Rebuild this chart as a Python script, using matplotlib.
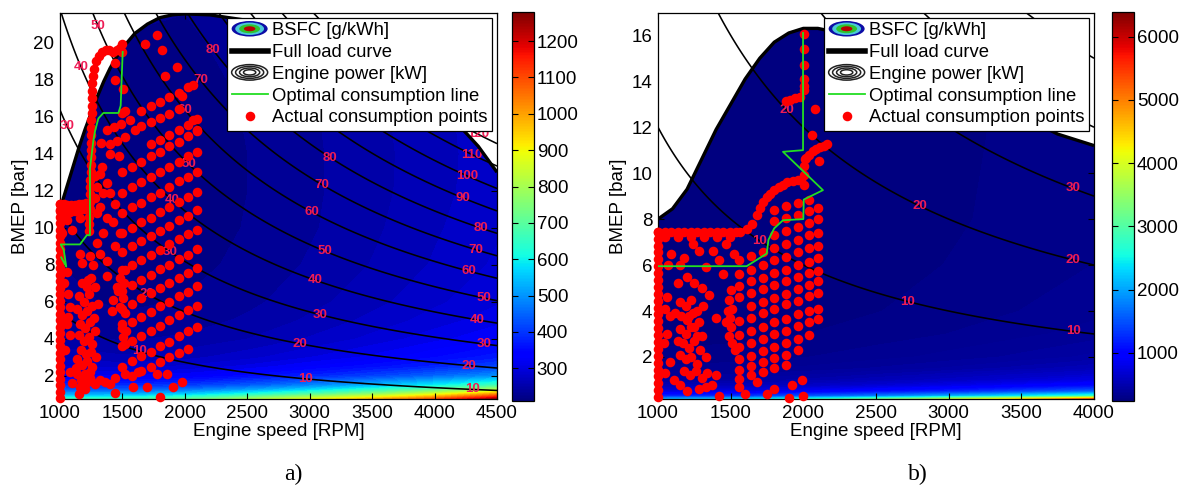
import numpy as np
import matplotlib
matplotlib.use('Agg')
import matplotlib.pyplot as plt
from matplotlib.legend_handler import HandlerBase
from matplotlib.patches import Ellipse, Patch
from matplotlib.lines import Line2D
from matplotlib.colors import Normalize
from matplotlib.cm import ScalarMappable

plt.rcParams['font.family'] = ['Liberation Sans', 'DejaVu Sans']
plt.rcParams['font.size'] = 13.5

# ------------------------------------------------------------------
# panel a) - 2.2 L engine
# ------------------------------------------------------------------
bsfc_a_rpm = [1000, 1500, 2000, 2500, 3000, 3500, 4000, 4500]
bsfc_a_bmep = [0.75, 1.0, 1.25, 1.5, 2.0, 2.5, 3, 4, 5, 6, 8, 10, 12, 14, 16, 18, 20, 22]
bsfc_a = [
    [650, 660, 700, 790, 880, 970, 1090, 1250],
    [520, 525, 560, 625, 700, 780, 880, 1030],
    [440, 440, 465, 510, 570, 635, 710, 810],
    [390, 385, 400, 435, 480, 530, 590, 665],
    [320, 315, 325, 350, 380, 410, 450, 495],
    [285, 280, 288, 305, 330, 355, 380, 415],
    [265, 258, 265, 280, 300, 320, 345, 370],
    [245, 238, 243, 255, 272, 290, 310, 330],
    [235, 228, 232, 243, 258, 275, 292, 310],
    [230, 222, 226, 236, 250, 265, 282, 298],
    [225, 217, 220, 229, 242, 256, 272, 288],
    [222, 215, 217, 226, 238, 252, 268, 283],
    [222, 214, 216, 225, 237, 250, 265, 280],
    [224, 215, 216, 225, 237, 250, 264, 280],
    [227, 217, 217, 226, 238, 251, 265, 281],
    [230, 220, 219, 228, 240, 253, 267, 283],
    [234, 224, 222, 231, 243, 256, 270, 286],
    [238, 228, 226, 234, 246, 259, 273, 289],
]
disp_a = 2.2          # litres
power_a = [10, 20, 30, 40, 50, 60, 70, 80, 90, 100, 110, 120]
label_a_level = [30, 40, 50, 10, 20, 30, 40, 50, 60, 70, 80,
                 10, 20, 30, 40, 50, 60, 70, 80,
                 10, 20, 30, 40, 50, 60, 70, 80, 90, 100, 110, 120]
label_a_rpm = [1056, 1168, 1306, 1640, 1695, 1880, 1900, 2030, 2003, 2124, 2228,
               2964, 2924, 3084, 3044, 3124, 3020, 3100, 3164,
               4300, 4275, 4395, 4340, 4395, 4275, 4330, 4370, 4230, 4260, 4300, 4350]

fl_a_rpm = [1000, 1050, 1100, 1150, 1200, 1250, 1300, 1350, 1400, 1450, 1500, 1600,
            1700, 1800, 1900, 2000, 2200, 2500, 3000, 3500, 4000, 4200, 4350, 4500]
fl_a_bmep = [11.0, 12.1, 13.2, 14.3, 15.3, 16.2, 17.1, 17.9, 18.6, 19.2, 19.7, 20.5,
             21.0, 21.35, 21.5, 21.55, 21.5, 21.2, 20.3, 18.8, 16.8, 15.5, 14.4, 13.0]

opt_a = [(1010, 8.4), (1050, 7.9), (1030, 8.8), (1005, 9.1), (1160, 9.1), (1215, 9.6),
         (1240, 9.6), (1240, 13.2), (1267, 14.7), (1280, 15.2), (1307, 15.9), (1347, 16.2),
         (1468, 16.2), (1486, 16.6), (1502, 19.5)]

idle_a_bmep = [0.8, 1.15, 1.5, 1.85, 2.2, 2.55, 2.9, 3.25, 3.6, 3.95, 4.3, 4.65, 5.0,
               5.35, 5.7, 6.05, 6.4, 6.75, 7.1, 7.45, 7.8, 8.15, 8.5, 8.85, 9.2, 9.55,
               9.9, 10.25, 10.6, 10.95, 11.3]
rows_a_rpm = [1500, 1575, 1650, 1725, 1800, 1875, 1950, 2025, 2100]
rows_a_bmep = [
    [None, 2.0, 2.25, 2.5, 2.75, 3.0, 3.25, 3.45, None],
    [2.5, 2.8, 3.05, 3.3, 3.6, 3.85, 4.15, 4.4, 4.65],
    [3.6, 3.9, 4.15, 4.45, 4.7, 5.0, 5.3, 5.55, 5.8],
    [4.6, 4.9, 5.2, 5.45, 5.75, 6.0, 6.3, 6.55, 6.85],
    [5.6, 5.9, 6.2, 6.45, 6.75, 7.0, 7.3, 7.55, 7.85],
    [6.6, 6.9, 7.2, 7.45, 7.75, 8.0, 8.3, 8.55, 8.85],
    [7.7, 8.0, 8.25, 8.55, 8.8, 9.1, 9.4, 9.65, 9.9],
    [8.7, 9.0, 9.3, 9.55, 9.85, 10.1, 10.4, 10.65, 10.95],
    [9.7, 10.0, 10.3, 10.55, 10.85, 11.1, 11.4, 11.65, 11.95],
    [10.8, 11.1, 11.35, 11.65, 11.9, 12.2, 12.5, 12.75, 13.0],
    [11.9, 12.2, 12.45, 12.75, 13.0, 13.3, 13.55, 13.85, 14.1],
    [13.0, 13.3, 13.55, 13.85, 14.1, 14.4, 14.65, 14.95, 15.2],
    [None, None, None, 14.5, 14.75, 15.0, 15.3, 15.55, 15.85],
    [None, None, 15.5, 15.7, 15.95, 16.15, 16.4, None, None],
    [None, None, 16.3, 16.55, 16.8, 17.05, 17.3, 17.6, None],
]
pts_a = [
    # launch band and climb to full load
    (1000, 11.3), (1030, 11.3), (1060, 11.25), (1090, 11.25), (1120, 11.25), (1150, 11.3),
    (1180, 11.3), (1210, 11.35), (1000, 10.9), (1040, 10.9), (1080, 10.85), (1120, 10.9),
    (1160, 10.95), (1200, 11.0),
    (1232, 9.8), (1234, 10.2), (1236, 10.6), (1238, 11.0), (1240, 11.4), (1240, 11.8),
    (1242, 12.2), (1244, 12.6), (1245, 13.0), (1246, 13.4), (1247, 13.8), (1248, 14.2),
    (1249, 14.6), (1250, 15.0), (1251, 15.4), (1252, 15.8), (1253, 16.2), (1254, 16.6),
    (1255, 17.0), (1256, 17.4), (1258, 17.8), (1265, 18.2), (1275, 18.6), (1290, 19.0),
    (1310, 19.3), (1335, 19.5), (1365, 19.6), (1395, 19.6), (1425, 19.5), (1455, 19.6),
    (1480, 19.7), (1495, 19.9), (1500, 19.5),
    # scattered points
    (1027, 10.8), (1053, 10.4), (1013, 9.7), (1094, 9.9), (1160, 10.5), (1300, 10.8),
    (1320, 11.1), (1280, 11.6), (1294, 12.2), (1280, 12.8), (1320, 12.9), (1374, 12.4),
    (1347, 11.9), (1400, 11.9), (1441, 11.3), (1427, 10.3), (1347, 9.7), (1481, 9.7),
    (1441, 9.0), (1374, 10.5), (1300, 9.2),
    (1067, 6.4), (1080, 5.7), (1067, 5.2), (1053, 4.8), (1080, 4.2), (1040, 3.4),
    (1080, 2.2), (1133, 2.1), (1093, 1.6), (1160, 1.4), (1160, 8.6), (1173, 8.1),
    (1240, 8.5), (1267, 8.0), (1227, 7.2), (1280, 6.8), (1307, 5.9), (1374, 7.4),
    (1320, 8.6), (1380, 8.2), (1030, 7.0), (1060, 7.6),
    (1775, 20.4), (1681, 19.9), (1815, 19.6), (1935, 18.7), (1842, 18.2), (1441, 18.9),
    (1441, 18.0), (1508, 17.5), (2063, 17.7), (1975, 17.1), (2096, 15.3), (2069, 15.8),
    (1494, 16.2), (1521, 16.3), (1560, 15.8), (1600, 15.3), (1400, 14.0), (1470, 13.9),
    (1330, 14.6), (1340, 13.3), (1380, 15.3), (1430, 15.45), (1490, 15.6), (1400, 14.5),
    (1460, 14.7), (1520, 14.9),
    (1481, 7.3), (1467, 6.6), (1508, 6.2), (1481, 5.7), (1521, 5.4), (1494, 4.8),
    (1529, 4.4), (1508, 4.1), (1521, 3.7), (1454, 6.8), (1427, 6.1), (1414, 5.5),
    (1513, 7.0), (1521, 7.7),
    (1240, 1.9), (1280, 1.55), (1320, 1.75), (1360, 1.65), (1400, 1.55), (1441, 1.9),
    (1521, 2.1), (1628, 2.2), (1695, 1.4), (1775, 2.1), (1802, 0.85), (1908, 1.4),
    (1975, 1.65), (1855, 2.1), (1441, 1.1), (1588, 1.4), (1200, 1.3), (1150, 1.0),
    # dense cluster of low-speed points
    (1150, 6.3), (1190, 6.0), (1230, 6.4), (1260, 5.8), (1140, 5.6), (1180, 5.3),
    (1220, 5.5), (1270, 5.1), (1160, 4.8), (1200, 4.6), (1240, 4.9), (1280, 4.4),
    (1150, 4.2), (1190, 3.9), (1230, 4.1), (1260, 3.7), (1170, 3.4), (1210, 3.2),
    (1250, 3.3), (1290, 3.0), (1140, 2.9), (1180, 2.6), (1220, 2.8), (1260, 2.5),
    (1200, 2.1), (1240, 2.2), (1170, 1.8), (1210, 1.6), (1250, 1.7), (1130, 2.4),
    (1220, 6.8), (1250, 7.3), (1180, 7.0),
]

# ------------------------------------------------------------------
# panel b) - 1.0 L engine
# ------------------------------------------------------------------
bsfc_b_rpm = [1000, 1500, 2000, 2500, 3000, 3500, 4000]
bsfc_b_bmep = [0.17, 0.3, 0.5, 0.75, 1.0, 1.5, 2, 3, 4, 6, 8, 12, 17]
bsfc_b = [
    [2000, 2200, 2600, 3100, 3700, 4400, 5200],
    [1200, 1300, 1500, 1750, 2050, 2400, 2800],
    [750, 800, 900, 1050, 1200, 1400, 1600],
    [520, 550, 620, 700, 800, 920, 1050],
    [420, 440, 480, 540, 610, 690, 780],
    [330, 340, 365, 400, 440, 490, 545],
    [290, 295, 315, 340, 370, 405, 445],
    [265, 265, 278, 295, 318, 345, 375],
    [255, 254, 262, 277, 296, 318, 342],
    [250, 245, 252, 264, 280, 298, 318],
    [250, 243, 248, 259, 273, 290, 308],
    [252, 244, 248, 257, 270, 286, 303],
    [256, 248, 251, 260, 272, 287, 304],
]
disp_b = 1.0
power_b = [10, 20, 30, 40, 50]
label_b_level = [10, 20, 10, 20, 10, 20, 30]
label_b_rpm = [1700, 1885, 2720, 2803, 3856, 3856, 3856]

fl_b_rpm = [1000, 1100, 1200, 1300, 1400, 1500, 1600, 1700, 1800, 1900, 2000, 2100,
            2250, 2500, 3000, 3500, 3750, 4000]
fl_b_bmep = [8.0, 8.45, 9.3, 10.6, 11.9, 13.0, 14.1, 15.0, 15.7, 16.1, 16.3, 16.3,
             16.1, 15.4, 14.0, 12.5, 11.7, 11.2]

opt_b = [(1000, 5.95), (1610, 5.95), (1748, 6.5), (1760, 7.1), (1800, 7.6), (1860, 7.95),
         (2000, 8.0), (2003, 8.85), (2135, 9.26), (1860, 10.93), (1998, 11.0), (1998, 16.1)]

idle_b_bmep = [0.25, 0.55, 0.85, 1.15, 1.45, 1.75, 2.05, 2.35, 2.65, 2.95, 3.25, 3.55,
               3.85, 4.15, 4.45, 4.75, 5.05, 5.35, 5.65, 5.95, 6.25, 6.55, 6.85, 7.15, 7.45]
rows_b_rpm = [1560, 1640, 1720, 1800, 1880, 1960, 2040, 2100]
rows_b_bmep = [
    [1.05, 1.2, 1.35, 1.5, 1.65, None, None, None],
    [1.45, 1.6, 1.8, 1.95, 2.1, 2.3, None, None],
    [1.9, 2.05, 2.25, 2.45, 2.6, 2.8, 2.95, None],
    [2.45, 2.6, 2.8, 3.0, 3.15, 3.35, 3.5, 3.65],
    [2.95, 3.15, 3.3, 3.5, 3.65, 3.85, 4.0, 4.1],
    [3.55, 3.7, 3.9, 4.1, 4.3, 4.45, 4.65, 4.8],
    [None, 4.2, 4.4, 4.55, 4.75, 4.95, 5.15, 5.3],
    [4.6, 4.8, 4.95, 5.15, 5.3, 5.5, 5.65, 5.75],
    [5.1, 5.3, 5.45, 5.65, 5.8, 6.0, 6.15, 6.3],
    [5.6, 5.8, 6.0, 6.2, 6.35, 6.55, 6.75, 6.85],
    [6.2, 6.4, 6.55, 6.75, 6.9, 7.1, 7.3, 7.4],
    [None, None, None, 7.3, 7.5, 7.65, 7.85, 8.0],
    [None, None, None, 7.9, 8.05, 8.2, 8.35, 8.5],
    [None, None, None, 8.4, 8.55, 8.7, 8.85, None],
]
pts_b = [
    # launch band and transition
    (1000, 7.45), (1045, 7.45), (1090, 7.45), (1135, 7.45), (1180, 7.45), (1225, 7.45),
    (1270, 7.45), (1315, 7.45), (1360, 7.45), (1405, 7.45), (1450, 7.45), (1495, 7.45),
    (1540, 7.45), (1045, 7.2), (1135, 7.2), (1225, 7.2), (1315, 7.2), (1405, 7.2), (1495, 7.2),
    (1564, 7.45), (1610, 7.55), (1645, 7.8), (1679, 8.2), (1700, 8.5), (1725, 8.75),
    (1750, 8.95), (1771, 9.1), (1800, 9.25), (1830, 9.4), (1860, 9.5), (1890, 9.6),
    (1931, 9.65), (1960, 9.7), (1985, 9.7), (2005, 9.5), (2005, 9.9), (2005, 10.3),
    (2010, 10.6), (2020, 10.65), (2040, 10.8), (2065, 10.95), (2090, 11.05), (2115, 11.15),
    (2140, 11.2), (2160, 11.25), (2005, 13.6), (2005, 13.8), (2005, 14.1), (2005, 14.7),
    (2005, 15.4), (2005, 16.05), (1880, 13.15), (1910, 13.2), (1940, 13.25), (1975, 13.3),
    (2080, 12.8), (2062, 11.65), (2108, 10.55),
    # dense cluster of low-speed points
    (1150, 4.4), (1190, 4.2), (1230, 4.5), (1270, 4.0), (1160, 3.8), (1200, 3.6),
    (1240, 3.9), (1280, 3.5), (1150, 3.2), (1190, 3.0), (1230, 3.3), (1270, 2.9),
    (1170, 2.6), (1210, 2.4), (1250, 2.7), (1290, 2.3), (1150, 2.1), (1190, 1.9),
    (1230, 2.0), (1270, 1.7), (1180, 1.4), (1220, 1.2), (1260, 1.4), (1300, 1.1),
    (1210, 3.8), (1250, 3.3), (1300, 2.9), (1140, 2.7), (1120, 3.9), (1310, 4.2),
    # scattered points
    (1060, 4.6), (1050, 4.1), (1080, 3.8), (1060, 3.0), (1040, 2.6), (1080, 1.8),
    (1050, 1.3), (1110, 1.0), (1150, 0.8), (1200, 0.5), (1280, 0.6), (1330, 0.7),
    (1370, 0.8), (1420, 0.3), (1560, 0.7), (1600, 0.4), (1680, 0.9), (1750, 0.4),
    (1800, 0.6), (1900, 0.2), (1920, 0.8), (1990, 1.0), (2000, 0.3), (1340, 1.3),
    (1330, 2.0), (1400, 1.2), (1090, 6.5), (1070, 6.0), (1150, 6.0), (1200, 5.5),
    (1250, 5.2), (1300, 5.0), (1330, 5.9), (1350, 4.7), (1400, 3.7), (1420, 6.2),
    (1450, 5.6), (1280, 6.6), (1140, 5.2), (1180, 6.3), (1500, 4.9), (1490, 4.5),
    (1510, 4.1), (1495, 3.7), (1505, 3.3), (1490, 2.9), (1510, 2.6), (1480, 4.0),
    (1470, 3.5), (1530, 2.3), (1240, 6.9), (1380, 6.6), (1470, 6.9), (1520, 6.5),
]

LABEL_RED = '#ee1c55'
GREEN = '#22dd22'
DOT_MS = 6.9


class Rings(HandlerBase):
    """Concentric ellipses for the contour entries of the legend."""
    def __init__(self, colors, fracs, filled):
        super().__init__()
        self.colors, self.fracs, self.filled = colors, fracs, filled

    def create_artists(self, legend, orig_handle, xdescent, ydescent,
                       width, height, fontsize, trans):
        cx = 0.5 * width - xdescent
        cy = 0.5 * height - ydescent
        out = []
        for c, f in zip(self.colors, self.fracs):
            if self.filled:
                kw = dict(facecolor=c, edgecolor='none')
            else:
                kw = dict(facecolor='none', edgecolor=c, lw=1.1)
            out.append(Ellipse((cx, cy), width * f, height * 1.2 * f, transform=trans, **kw))
        return out


def collect_points(idle_bmep, rows_rpm, rows_bmep, pts):
    x = [1000] * len(idle_bmep)
    y = list(idle_bmep)
    for row in rows_bmep:
        for r, b in zip(rows_rpm, row):
            if b is not None:
                x.append(r)
                y.append(b)
    x += [p[0] for p in pts]
    y += [p[1] for p in pts]
    return np.array(x), np.array(y)


def draw_panel(ax, cax, g_rpm, g_bmep, g_bsfc, vmin, vmax, nlev, cticks,
               xlim, ylim, yticks, disp, levels, lab_level, lab_rpm,
               fl_rpm, fl_bmep, opt, dots_x, dots_y):
    X, Y = np.meshgrid(g_rpm, g_bmep)
    ax.contourf(X, Y, np.array(g_bsfc), levels=np.linspace(vmin, vmax, nlev),
                cmap='jet', vmin=vmin, vmax=vmax, zorder=1)
    # region above the full load curve is not reachable
    ax.fill_between(fl_rpm, fl_bmep, 40, color='white', zorder=2, lw=0)

    # constant power hyperbolas: P = BMEP * Vd * n / 1200
    n = np.linspace(xlim[0], xlim[1], 300)
    pm = np.linspace(ylim[0], ylim[1], 300)
    N, PM = np.meshgrid(n, pm)
    ax.contour(N, PM, PM * disp * N / 1200.0, levels=levels, colors='k',
               linewidths=1.15, zorder=3)
    for lv, r in zip(lab_level, lab_rpm):
        ax.text(r, lv * 1200.0 / (disp * r), str(lv), color=LABEL_RED, fontsize=9.5,
                fontweight='bold', ha='center', va='center', zorder=4)

    ax.plot(fl_rpm, fl_bmep, color='k', lw=2.4, zorder=4, solid_capstyle='butt')
    ax.plot(dots_x, dots_y, 'o', color='red', ms=DOT_MS, mec='none', zorder=5, clip_on=False)
    ax.plot([p[0] for p in opt], [p[1] for p in opt], color=GREEN, lw=1.3, zorder=6)

    ax.set_xlim(xlim)
    ax.set_ylim(ylim)
    ax.set_xticks(np.arange(1000, xlim[1] + 1, 500))
    ax.set_yticks(yticks)
    ax.tick_params(direction='in', top=True, right=True, length=4, width=0.8,
                   labelsize=13.5, pad=4)
    ax.set_xlabel('Engine speed [RPM]', fontsize=13.5, labelpad=1)
    ax.set_ylabel('BMEP [bar]', fontsize=13.5, labelpad=3)
    for s in ax.spines.values():
        s.set_linewidth(0.9)

    sm = ScalarMappable(norm=Normalize(vmin, vmax), cmap='jet')
    cb = plt.colorbar(sm, cax=cax)
    cb.set_ticks(cticks)
    cb.outline.set_linewidth(0.9)
    cax.tick_params(direction='in', left=True, right=True, length=4, width=0.8,
                    labelsize=13.5, pad=2)

    bsfc_proxy = Patch()
    power_proxy = Patch()
    handles = [bsfc_proxy,
               Line2D([], [], color='k', lw=4),
               power_proxy,
               Line2D([], [], color=GREEN, lw=1.3),
               Line2D([], [], color='red', marker='o', ls='none', ms=DOT_MS, mec='none')]
    labels = ['BSFC [g/kWh]', 'Full load curve', 'Engine power [kW]',
              'Optimal consumption line', 'Actual consumption points']
    hmap = {bsfc_proxy: Rings(['#0c0ca6', '#4cc8d8', '#2fc42f', '#b80000'],
                              [1.0, 0.8, 0.58, 0.32], True),
            power_proxy: Rings(['#222222'] * 4, [1.0, 0.78, 0.56, 0.34], False)}
    leg = ax.legend(handles, labels, handler_map=hmap, loc='upper right', fontsize=13.3,
                    fancybox=False, edgecolor='k', framealpha=1, borderpad=0.25,
                    labelspacing=0.26, handlelength=1.95, handletextpad=0.25,
                    borderaxespad=0.25)
    leg.get_frame().set_linewidth(0.9)
    leg.set_zorder(10)


fig = plt.figure(figsize=(11.84, 4.91), dpi=100)
ax_a = fig.add_axes([60 / 1184, 92 / 491, 437 / 1184, 386 / 491])
cax_a = fig.add_axes([512 / 1184, 90 / 491, 22 / 1184, 389 / 491])
ax_b = fig.add_axes([658 / 1184, 92 / 491, 436 / 1184, 386 / 491])
cax_b = fig.add_axes([1112 / 1184, 90 / 491, 22 / 1184, 389 / 491])

xa, ya = collect_points(idle_a_bmep, rows_a_rpm, rows_a_bmep, pts_a)
draw_panel(ax_a, cax_a, bsfc_a_rpm, bsfc_a_bmep, bsfc_a, 210, 1280, 72,
           np.arange(300, 1201, 100), (1000, 4500), (0.75, 21.6), np.arange(2, 21, 2),
           disp_a, power_a, label_a_level, label_a_rpm, fl_a_rpm, fl_a_bmep, opt_a, xa, ya)

xb, yb = collect_points(idle_b_bmep, rows_b_rpm, rows_b_bmep, pts_b)
draw_panel(ax_b, cax_b, bsfc_b_rpm, bsfc_b_bmep, bsfc_b, 240, 6390, 160,
           np.arange(1000, 6001, 1000), (1000, 4000), (0.17, 16.97), np.arange(2, 17, 2),
           disp_b, power_b, label_b_level, label_b_rpm, fl_b_rpm, fl_b_bmep, opt_b, xb, yb)

fig.text(293 / 1184, 1 - 474 / 491, 'a)', family='Liberation Serif', fontsize=17,
         ha='center', va='center')
fig.text(918 / 1184, 1 - 474 / 491, 'b)', family='Liberation Serif', fontsize=17,
         ha='center', va='center')

fig.savefig('out.png', dpi=100)
